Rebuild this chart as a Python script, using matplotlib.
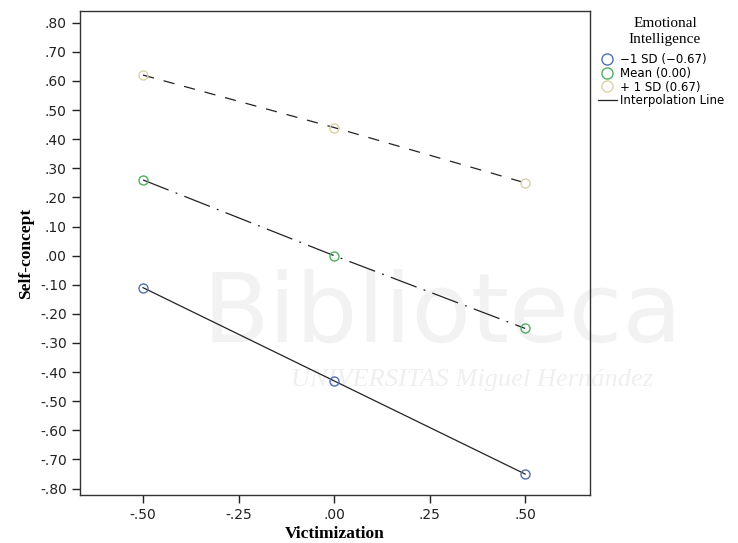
import matplotlib.pyplot as plt
from matplotlib.lines import Line2D

# simple slopes: self-concept vs victimization at three levels of EI
victimization = [-0.5, 0.0, 0.5]
low_ei = [-0.11, -0.43, -0.75]
mean_ei = [0.26, 0.00, -0.25]
high_ei = [0.62, 0.44, 0.25]

group_labels = ['\u22121 SD (\u22120.67)', 'Mean (0.00)', '+ 1 SD (0.67)']
marker_colors = ['#4f6fb5', '#4fb060', '#d9d2a6']

x_ticks = [-0.5, -0.25, 0.0, 0.25, 0.5]
x_ticklabels = ['-.50', '-.25', '.00', '.25', '.50']
y_ticks = [0.8, 0.7, 0.6, 0.5, 0.4, 0.3, 0.2, 0.1, 0.0, -0.1, -0.2, -0.3, -0.4, -0.5, -0.6, -0.7, -0.8]
y_ticklabels = ['.80', '.70', '.60', '.50', '.40', '.30', '.20', '.10', '.00',
                '-.10', '-.20', '-.30', '-.40', '-.50', '-.60', '-.70', '-.80']

fig = plt.figure(figsize=(7.38, 5.43), dpi=100)
ax = fig.add_axes([0.1084, 0.0884, 0.6911, 0.8913])
ax.set_zorder(1)
ax.patch.set_alpha(0)

# faint watermark behind the plot
fig.text(0.60, 0.37, 'Biblioteca', fontsize=70, color='#f2f2f2',
         ha='center', va='baseline', zorder=0)
fig.text(0.64, 0.30, 'UNIVERSITAS Miguel Hern\u00e1ndez', fontsize=19,
         color='#efefef', style='italic', family='Liberation Serif',
         ha='center', va='center', zorder=0)

line_styles = ['-', (0, (22, 6, 1.5, 6)), (0, (9, 8))]
series = [low_ei, mean_ei, high_ei]
for vals, ls, col in zip(series, line_styles, marker_colors):
    ax.plot(victimization, vals, color='#222222', linestyle=ls, linewidth=0.9, zorder=2)
    ax.plot(victimization, vals, linestyle='none', marker='o', markersize=6.5,
            markerfacecolor='none', markeredgecolor=col, markeredgewidth=1.0, zorder=3)

ax.set_xlim(-0.665, 0.67)
ax.set_ylim(-0.822, 0.84)
ax.set_xticks(x_ticks)
ax.set_xticklabels(x_ticklabels)
ax.set_yticks(y_ticks)
ax.set_yticklabels(y_ticklabels)
ax.tick_params(labelsize=10, colors='#222222', length=6, width=1.0)
for s in ax.spines.values():
    s.set_color('#333333')
    s.set_linewidth(1.0)

ax.set_xlabel('Victimization', family='Liberation Serif', fontweight='bold', fontsize=12.5, labelpad=3)
ax.set_ylabel('Self-concept', family='Liberation Serif', fontweight='bold', fontsize=12.5, labelpad=4)

handles = [Line2D([], [], linestyle='none', marker='o', markersize=8, markerfacecolor='none',
                  markeredgecolor=c, markeredgewidth=1.0) for c in marker_colors]
handles.append(Line2D([], [], color='#222222', linewidth=0.9))
fig.legend(handles, group_labels + ['Interpolation Line'], loc='upper left',
           bbox_to_anchor=(0.797, 0.919), frameon=False, fontsize=8.5,
           handlelength=1.6, handletextpad=0.3, labelspacing=0.05, borderpad=0.3)
fig.text(0.901, 0.942, 'Emotional\nIntelligence', family='Liberation Serif', fontsize=11,
         ha='center', va='center', multialignment='center', linespacing=1.35)

fig.savefig('out.png', dpi=100)
